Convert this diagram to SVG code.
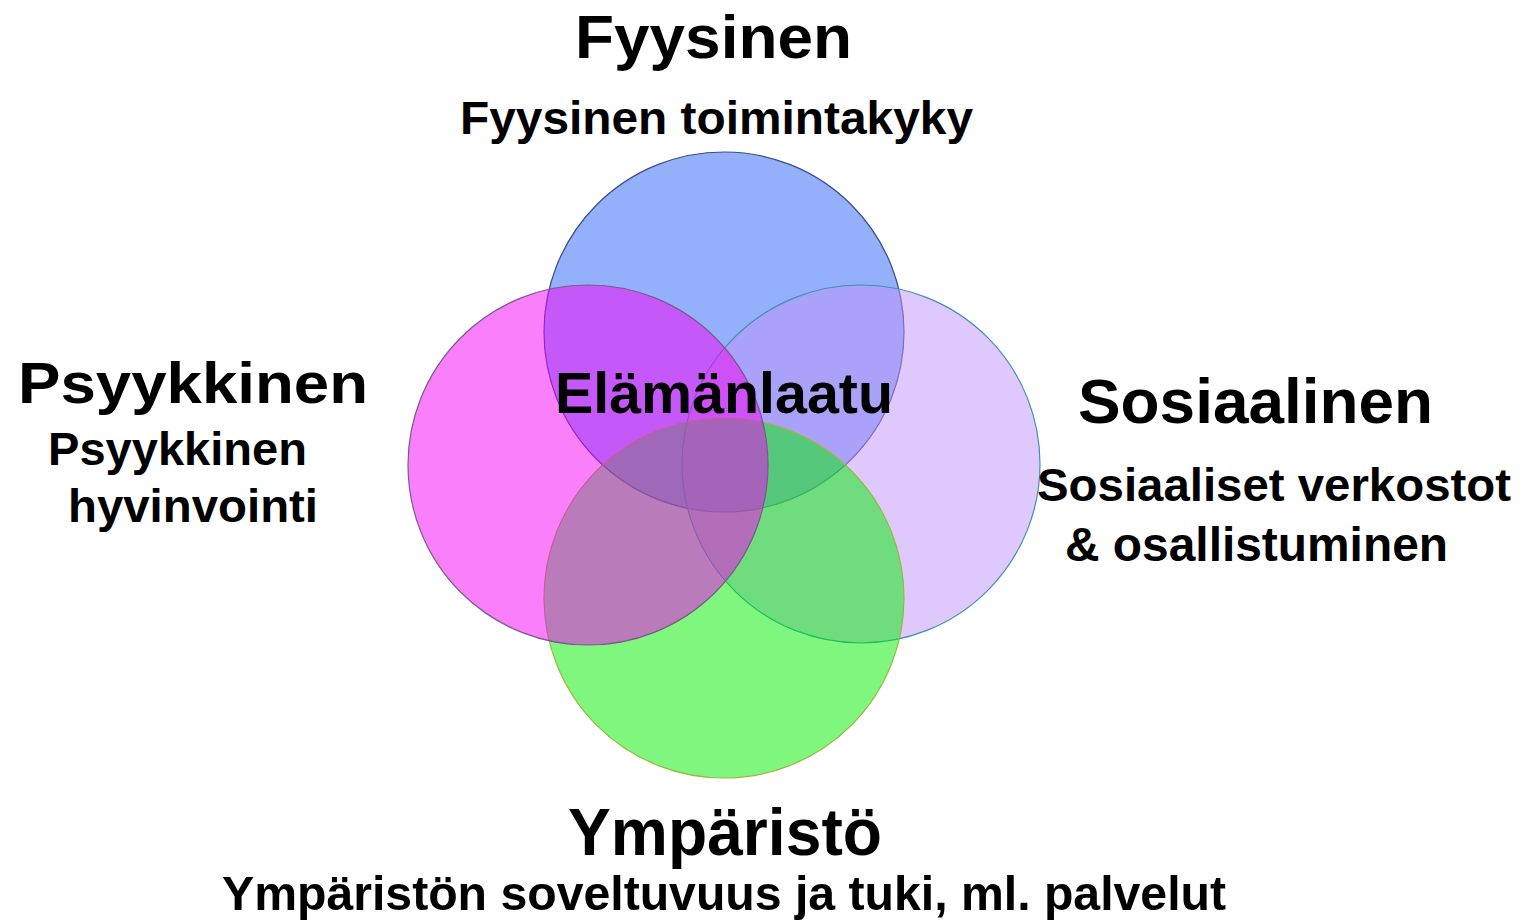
<svg xmlns="http://www.w3.org/2000/svg" width="1523" height="923" viewBox="0 0 1523 923">
<style>
.t{font-family:"Liberation Sans",Arial,sans-serif;font-weight:bold;fill:#000}
.c{fill-opacity:0.5;stroke-width:1.2}
</style>
<rect width="1523" height="923" fill="#fff"/>
<g id="circles">
<g id="fyysinen-circle"><circle class="c" cx="724" cy="332" r="180" fill="#2961f5" stroke="#3a4a8a"/></g>
<g id="sosiaalinen-circle"><circle class="c" cx="861" cy="464" r="179" fill="#bf91f7" stroke="#3f8fb8"/></g>
<g id="ymparisto-circle"><circle class="c" cx="724" cy="598" r="180" fill="#00f000" stroke="#9ab840"/></g>
<g id="psyykkinen-circle"><circle class="c" cx="588" cy="465" r="180" fill="#f500f5" stroke="#7a5a8a"/></g>
</g>
<g id="fyysinen">
<text class="t" x="575" y="58" font-size="62" textLength="277" lengthAdjust="spacingAndGlyphs">Fyysinen</text>
<text class="t" x="460" y="134" font-size="46" textLength="513" lengthAdjust="spacingAndGlyphs">Fyysinen toimintakyky</text>
</g>
<g id="psyykkinen">
<text class="t" x="18" y="403" font-size="58" textLength="350" lengthAdjust="spacingAndGlyphs">Psyykkinen</text>
<text class="t" x="48" y="465" font-size="47" textLength="259" lengthAdjust="spacingAndGlyphs">Psyykkinen</text>
<text class="t" x="68" y="522" font-size="47" textLength="250" lengthAdjust="spacingAndGlyphs">hyvinvointi</text>
</g>
<g id="elamanlaatu">
<text class="t" x="555" y="413" font-size="57" textLength="338" lengthAdjust="spacingAndGlyphs">Elämänlaatu</text>
</g>
<g id="sosiaalinen">
<text class="t" x="1078" y="423" font-size="63" textLength="355" lengthAdjust="spacingAndGlyphs">Sosiaalinen</text>
<text class="t" x="1037" y="501" font-size="47" textLength="474" lengthAdjust="spacingAndGlyphs">Sosiaaliset verkostot</text>
<text class="t" x="1065" y="561" font-size="48" textLength="383" lengthAdjust="spacingAndGlyphs">&amp; osallistuminen</text>
</g>
<g id="ymparisto">
<text class="t" x="568" y="855" font-size="66" textLength="314" lengthAdjust="spacingAndGlyphs">Ympäristö</text>
<text class="t" x="222" y="910" font-size="48" textLength="1004" lengthAdjust="spacingAndGlyphs">Ympäristön soveltuvuus ja tuki, ml. palvelut</text>
</g>
<g id="connectors"></g>
</svg>
